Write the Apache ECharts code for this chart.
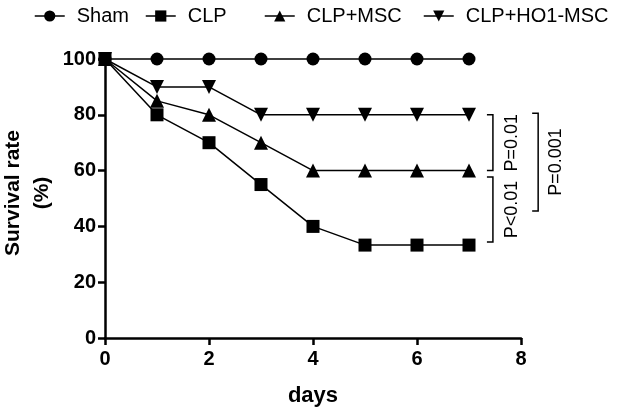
<!DOCTYPE html>
<html>
<head>
<meta charset="utf-8">
<script src="https://cdn.jsdelivr.net/npm/echarts@6/dist/echarts.min.js"></script>
<style>html,body{margin:0;padding:0;background:#fff;}#c{width:629px;height:408px;}</style>
</head>
<body>
<div id="c"></div>
<script>
var days = [0, 1, 2, 3, 4, 5, 6, 7];
var sham = [100, 100, 100, 100, 100, 100, 100, 100];
var clp = [100, 80, 70, 55, 40, 33.3, 33.3, 33.3];
var clpMsc = [100, 85, 80, 70, 60, 60, 60, 60];
var clpHo1Msc = [100, 90, 90, 80, 80, 80, 80, 80];
var seriesNames = ['Sham', 'CLP', 'CLP+MSC', 'CLP+HO1-MSC'];
var yTicks = [0, 20, 40, 60, 80, 100];
var xTicks = [0, 2, 4, 6, 8];
var yTitle = 'Survival rate\n(%)';
var xTitle = 'days';
// significance brackets: [x of bar, y top, y bottom, label, label x]
var brackets = [
  {x: 7.46, y1: 80, y2: 60, label: 'P=0.01', lx: 7.83},
  {x: 7.46, y1: 57.7, y2: 34.4, label: 'P<0.01', lx: 7.83},
  {x: 8.33, y1: 80.6, y2: 45.5, label: 'P=0.001', lx: 8.68}
];

function pairs(ys) { return days.map(function (d, i) { return [d, ys[i]]; }); }

var font = '"Liberation Sans", Arial, Helvetica, sans-serif';
var chart = echarts.init(document.getElementById('c'), null, {renderer: 'canvas'});

var symbols = ['circle', 'rect', 'triangle', 'triangle'];
var rotates = [0, 0, 0, 180];
var sizes = [13, 13, 14, 14];
var datas = [sham, clp, clpMsc, clpHo1Msc];
var zs = [2, 5, 4, 3];

var series = seriesNames.map(function (n, i) {
  return {
    name: n, type: 'line', data: pairs(datas[i]),
    symbol: symbols[i], symbolRotate: rotates[i], symbolSize: sizes[i],
    showAllSymbol: true, clip: false, z: zs[i],
    lineStyle: {color: '#000', width: 1.5},
    itemStyle: {color: '#000', borderWidth: 0},
    emphasis: {disabled: true},
    animation: false
  };
});

var legendLefts = [29, 140, 259, 418];
var legends = seriesNames.map(function (n, i) {
  return {
    data: [n],
    left: legendLefts[i], top: 1,
    itemWidth: 30, itemHeight: 14,
    selectedMode: false,
    itemStyle: {color: '#000'},
    lineStyle: {color: '#000', width: 1.5},
    textStyle: {fontFamily: font, fontSize: 20, color: '#000', padding: [0, 0, 0, 7]}
  };
});

var option = {
  backgroundColor: '#fff',
  animation: false,
  legend: legends,
  grid: {left: 105, right: 108, top: 59, bottom: 70, containLabel: false, outerBoundsMode: 'none'},
  xAxis: {
    type: 'value', min: 0, max: 8, interval: 2,
    name: xTitle, nameLocation: 'middle', nameGap: 47,
    nameTextStyle: {fontFamily: font, fontSize: 22, fontWeight: 'bold', color: '#000'},
    axisLine: {show: true, onZero: false, lineStyle: {color: '#000', width: 2.5}},
    axisTick: {show: true, length: 7, lineStyle: {color: '#000', width: 2.5}},
    axisLabel: {fontFamily: font, fontSize: 20, fontWeight: 'bold', color: '#000', margin: 11,
      formatter: function (v) { return xTicks.indexOf(v) >= 0 ? String(v) : ''; }},
    splitLine: {show: false}
  },
  yAxis: {
    type: 'value', min: 0, max: 100, interval: 20,
    axisLine: {show: true, onZero: false, lineStyle: {color: '#000', width: 2.5}},
    axisTick: {show: true, length: 7, lineStyle: {color: '#000', width: 2.5}},
    axisLabel: {fontFamily: font, fontSize: 20, fontWeight: 'bold', color: '#000', margin: 9,
      formatter: function (v) { return yTicks.indexOf(v) >= 0 ? String(v) : ''; }},
    splitLine: {show: false}
  },
  series: series
};
chart.setOption(option);

var g = [];
g.push({
  type: 'text', silent: true, x: 28, y: 193, rotation: Math.PI / 2,
  style: {text: yTitle, fontFamily: font, fontSize: 21, fontWeight: 'bold', fill: '#000',
    align: 'center', verticalAlign: 'middle', lineHeight: 29}
});
brackets.forEach(function (b) {
  var p1 = chart.convertToPixel({gridIndex: 0}, [b.x, b.y1]);
  var p2 = chart.convertToPixel({gridIndex: 0}, [b.x, b.y2]);
  var tick = 6;
  g.push({
    type: 'polyline', silent: true,
    shape: {points: [[p1[0] - tick, p1[1]], [p1[0], p1[1]], [p2[0], p2[1]], [p2[0] - tick, p2[1]]]},
    style: {stroke: '#000', lineWidth: 1.5, fill: null}
  });
  var lp = chart.convertToPixel({gridIndex: 0}, [b.lx, (b.y1 + b.y2) / 2]);
  g.push({
    type: 'text', silent: true, x: lp[0], y: lp[1], rotation: Math.PI / 2,
    style: {text: b.label, fontFamily: font, fontSize: 18, fill: '#000', align: 'center', verticalAlign: 'middle'}
  });
});
chart.setOption({graphic: g});
</script>
</body>
</html>
